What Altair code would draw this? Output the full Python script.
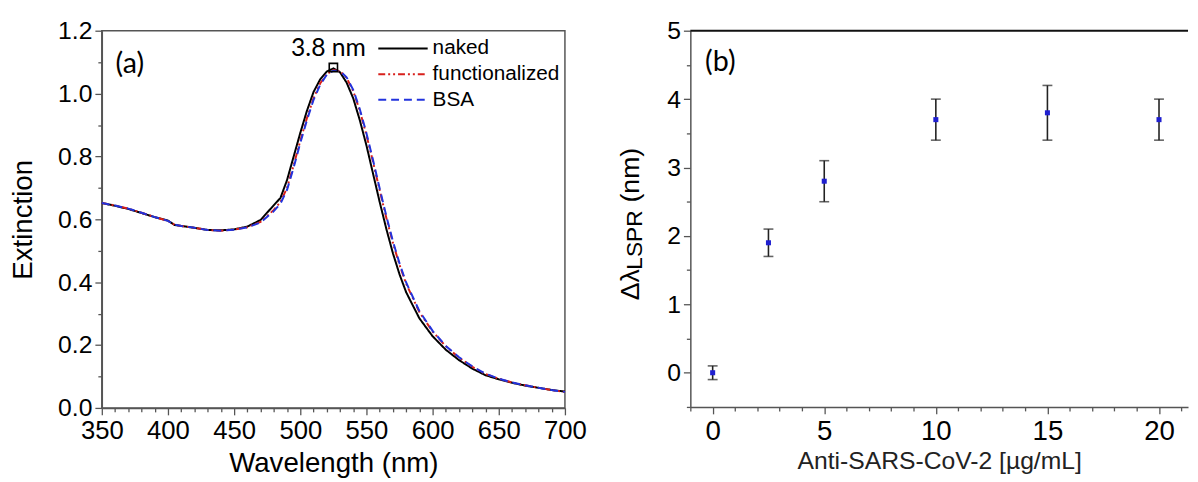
import altair as alt
import pandas as pd

# ---------------- panel (a) data ----------------
wavelength = [350, 360, 370, 380, 390, 400, 405, 410, 420, 430, 440, 450, 460, 470, 480, 485,
              490, 495, 500, 505, 510, 515, 520, 525, 530, 535, 540, 545, 550, 555, 560, 565,
              570, 575, 580, 590, 600, 610, 620, 630, 640, 650, 660, 670, 680, 690, 700]
naked = [0.652, 0.643, 0.633, 0.620, 0.607, 0.596, 0.582, 0.579, 0.573, 0.566, 0.565, 0.568,
         0.577, 0.598, 0.645, 0.668, 0.725, 0.800, 0.875, 0.945, 1.005, 1.045, 1.070, 1.080,
         1.068, 1.035, 0.985, 0.915, 0.835, 0.745, 0.655, 0.570, 0.492, 0.425, 0.368, 0.285,
         0.228, 0.185, 0.152, 0.125, 0.104, 0.091, 0.080, 0.071, 0.064, 0.057, 0.052]
functionalized = [0.652, 0.644, 0.634, 0.621, 0.607, 0.595, 0.583, 0.579, 0.573, 0.566, 0.564,
                  0.567, 0.575, 0.592, 0.630, 0.655, 0.700, 0.772, 0.850, 0.922, 0.985, 1.032,
                  1.062, 1.075, 1.072, 1.050, 1.008, 0.945, 0.868, 0.782, 0.692, 0.605, 0.525,
                  0.455, 0.395, 0.305, 0.243, 0.196, 0.160, 0.131, 0.108, 0.093, 0.081, 0.072,
                  0.064, 0.057, 0.051]
bsa = [0.652, 0.644, 0.634, 0.621, 0.607, 0.595, 0.583, 0.579, 0.573, 0.566, 0.564, 0.567,
       0.574, 0.590, 0.626, 0.650, 0.694, 0.765, 0.843, 0.915, 0.980, 1.028, 1.060, 1.073,
       1.072, 1.052, 1.012, 0.950, 0.874, 0.788, 0.698, 0.611, 0.530, 0.460, 0.399, 0.308,
       0.245, 0.197, 0.161, 0.132, 0.109, 0.093, 0.081, 0.072, 0.064, 0.057, 0.051]
series_names = ["naked", "functionalized", "BSA"]
series_colors = ["#000000", "#d8201c", "#2233dd"]
series_dash = [[1, 0], [7, 3, 2, 3, 2, 3], [8, 5]]

peak_wavelength = [525]
peak_value = [1.083]
shift_label = ["3.8 nm"]

# ---------------- panel (b) data ----------------
concentration = [0, 2.5, 5, 10, 15, 20]
shift = [0.0, 1.9, 2.8, 3.7, 3.8, 3.7]
shift_low = [-0.1, 1.7, 2.5, 3.4, 3.4, 3.4]
shift_high = [0.1, 2.1, 3.1, 4.0, 4.2, 4.0]

FONT = "Liberation Sans"
AX = "#555555"

rows = []
for name, vals in zip(series_names, [naked, functionalized, bsa]):
    for w, v in zip(wavelength, vals):
        rows.append({"wavelength": w, "extinction": v, "series": name})
spec_df = pd.DataFrame(rows)

axis_a_x = alt.Axis(
    title="Wavelength (nm)", values=list(range(350, 701, 10)),
    labelExpr="datum.value % 50 === 0 ? datum.label : ''",
    tickSize={"condition": {"test": "datum.value % 50 === 0", "value": 7}, "value": 4},
    labelFontSize=26, titleFontSize=28, labelFont=FONT, titleFont=FONT,
    labelColor="black", titleColor="black", titleFontWeight="normal",
    domainColor=AX, tickColor=AX, domainWidth=1.5, tickWidth=1.3,
    labelPadding=3, titlePadding=6, grid=False, labelOverlap=False, labelFlush=False,
)
axis_a_y = alt.Axis(
    title="Extinction", values=[round(i * 0.1, 1) for i in range(13)],
    labelExpr="abs(round(datum.value*5) - datum.value*5) < 0.001 ? format(datum.value, '.1f') : ''",
    tickSize={"condition": {"test": "abs(round(datum.value*5) - datum.value*5) < 0.001", "value": 7}, "value": 4},
    labelFontSize=25, titleFontSize=28, labelFont=FONT, titleFont=FONT,
    labelColor="black", titleColor="black", titleFontWeight="normal",
    domainColor=AX, tickColor=AX, domainWidth=1.5, tickWidth=1.3,
    labelPadding=3, titlePadding=20, grid=False, labelOverlap=False, labelFlush=False,
)
sx_a = alt.Scale(domain=[350, 700], nice=False, zero=False)
sy_a = alt.Scale(domain=[0, 1.2], nice=False, zero=False)
x_a = alt.X("wavelength:Q", scale=sx_a, axis=axis_a_x)
y_a = alt.Y("extinction:Q", scale=sy_a, axis=axis_a_y)

legend_a = alt.Legend(title=None, orient="none", legendX=294, legendY=7, padding=0,
                      symbolType="M-2.5,0L2.5,0", symbolSize=400, symbolStrokeWidth=2,
                      labelFont=FONT, labelFontSize=21, labelColor="black",
                      labelOffset=19, rowPadding=5)

lines = alt.Chart(spec_df).mark_line(strokeWidth=2).encode(
    x=x_a, y=y_a,
    color=alt.Color("series:N", scale=alt.Scale(domain=series_names, range=series_colors),
                    legend=legend_a),
    strokeDash=alt.StrokeDash("series:N", scale=alt.Scale(domain=series_names, range=series_dash),
                              legend=legend_a),
    order=alt.Order("wavelength:Q"),
)

peak_df = pd.DataFrame({"wavelength": peak_wavelength, "extinction": peak_value, "label": shift_label})
peak_box = alt.Chart(peak_df).mark_point(shape="square", filled=False, color="black", size=70,
                                         strokeWidth=1.6, opacity=1).encode(x=x_a, y=y_a)
peak_text = alt.Chart(peak_df).mark_text(font="Lato", fontSize=25, color="black", dx=-5,
                                         dy=-20, align="center").encode(
    x=x_a, y=y_a, text="label:N")

tag_a = alt.Chart(pd.DataFrame({"t": ["(a)"], "wavelength": [360.4], "extinction": [1.093]})).mark_text(
    font="Lato", fontSize=29, align="left", baseline="middle", color="black").encode(
    x=x_a, y=y_a, text="t:N")

panel_a = alt.layer(lines, peak_box, peak_text, tag_a).properties(
    width=469, height=382,
    view=alt.ViewBackground(stroke=AX, strokeWidth=1.5),
)

# ---------------- panel (b) ----------------
b_df = pd.DataFrame({"c": concentration, "s": shift, "lo": shift_low, "hi": shift_high})

axis_b_x = alt.Axis(
    title="Anti-SARS-CoV-2 [µg/mL]", values=list(range(-1, 22)),
    labelExpr="datum.value % 5 === 0 ? datum.label : ''",
    tickSize={"condition": {"test": "datum.value % 5 === 0", "value": 7}, "value": 4},
    labelFontSize=28, titleFontSize=25, labelFont=FONT, titleFont=FONT,
    labelColor="black", titleColor="#222222", titleFontWeight="normal",
    domainColor=AX, tickColor=AX, domainWidth=1.5, tickWidth=1.3,
    labelPadding=4, titlePadding=3, grid=False, labelOverlap=False, labelFlush=False,
)
axis_b_y = alt.Axis(
    title=None, values=[i * 0.5 for i in range(-1, 11)],
    labelExpr="datum.value % 1 === 0 ? format(datum.value, 'd') : ''",
    tickSize={"condition": {"test": "datum.value % 1 === 0", "value": 7}, "value": 4},
    labelFontSize=25, labelFont=FONT, labelColor="black",
    domainColor=AX, tickColor=AX, domainWidth=1.5, tickWidth=1.3,
    labelPadding=3, grid=False, labelOverlap=False, labelFlush=False,
)
sx_b = alt.Scale(domain=[-1, 21.3], nice=False, zero=False)
sy_b = alt.Scale(domain=[-0.5, 5], nice=False, zero=False)
x_b = alt.X("c:Q", scale=sx_b, axis=axis_b_x)


def y_b(field):
    return alt.Y(field + ":Q", scale=sy_b, axis=axis_b_y)


err = alt.Chart(b_df).mark_rule(color="#222222", strokeWidth=1.6).encode(
    x=x_b, y=y_b("lo"), y2="hi:Q")
cap_lo = alt.Chart(b_df).mark_tick(color="#222222", thickness=1.6, size=10, orient="horizontal").encode(
    x=x_b, y=y_b("lo"))
cap_hi = alt.Chart(b_df).mark_tick(color="#222222", thickness=1.6, size=10, orient="horizontal").encode(
    x=x_b, y=y_b("hi"))
pts = alt.Chart(b_df).mark_square(color="#1f1fd0", size=26, opacity=1).encode(x=x_b, y=y_b("s"))

top_line = alt.Chart(pd.DataFrame({"s": [5]})).mark_rule(color="#111111", strokeWidth=2).encode(
    y=y_b("s"))

tag_b = alt.Chart(pd.DataFrame({"t": ["(b)"], "c": [-0.34], "s": [4.54]})).mark_text(
    font="Lato", fontSize=29, align="left", baseline="middle", color="black").encode(
    x=x_b, y=y_b("s"), text="t:N")

t1 = alt.Chart(pd.DataFrame({"t": ["Δλ"]})).mark_text(
    font=FONT, fontSize=27, angle=270, align="left", baseline="alphabetic", color="black").encode(
    text="t:N", x=alt.value(-52), y=alt.value(273))
t2 = alt.Chart(pd.DataFrame({"t": ["LSPR"]})).mark_text(
    font=FONT, fontSize=23, angle=270, align="left", baseline="alphabetic", color="black").encode(
    text="t:N", x=alt.value(-49), y=alt.value(242))
t3 = alt.Chart(pd.DataFrame({"t": ["(nm)"]})).mark_text(
    font=FONT, fontSize=27, angle=270, align="left", baseline="alphabetic", color="black").encode(
    text="t:N", x=alt.value(-52), y=alt.value(174))

panel_b = alt.layer(err, cap_lo, cap_hi, pts, top_line, tag_b, t1, t2, t3).properties(
    width=504, height=381,
    view=alt.ViewBackground(stroke="transparent"),
)

chart = alt.hconcat(panel_a, panel_b, spacing=29).properties(
    padding={"left": 1, "top": 7, "right": 0, "bottom": 0}
).configure(background="white")

chart.save("out.html", embed_options={"renderer": "svg", "actions": False})
